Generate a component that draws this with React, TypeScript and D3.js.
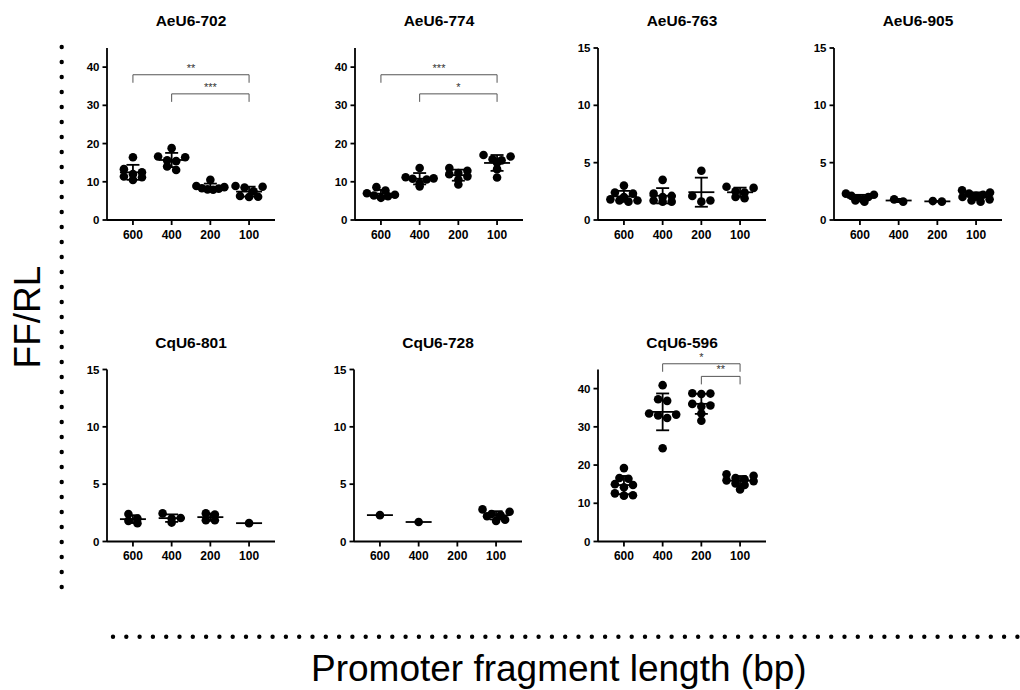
import { useEffect, useRef } from 'react'
import * as d3 from 'd3'

const CATEGORIES = ['600', '400', '200', '100']
const PANEL_NAMES = ['AeU6-702', 'AeU6-774', 'AeU6-763', 'AeU6-905', 'CqU6-801', 'CqU6-728', 'CqU6-596']
const Y_MAX = [45, 45, 15, 15, 15, 15, 45]
const TICKS_45 = [0, 10, 20, 30, 40]
const TICKS_15 = [0, 5, 10, 15]

// FF/RL replicates per fragment length (600, 400, 200, 100)
const AEU6_702 = [
  [16.4, 13.3, 12.5, 12.0, 11.4, 11.2, 10.5],
  [18.8, 16.6, 16.4, 15.6, 15.4, 14.0, 13.1],
  [10.5, 8.9, 8.6, 8.3, 8.2, 8.0, 7.9],
  [8.9, 8.7, 8.5, 7.5, 6.3, 6.1, 6.0]
]
const AEU6_774 = [
  [8.6, 7.7, 7.0, 6.6, 6.4, 6.2, 5.8],
  [13.6, 11.2, 10.9, 10.8, 10.6, 9.7, 8.8],
  [13.6, 12.9, 12.3, 12.0, 11.4, 10.6, 9.3],
  [17.0, 16.6, 15.9, 15.6, 15.0, 13.3, 11.1]
]
const AEU6_763 = [
  [3.0, 2.4, 2.3, 2.0, 1.8, 1.7, 1.7, 1.6],
  [3.5, 2.3, 2.1, 2.0, 1.7, 1.6, 1.6],
  [4.3, 2.1, 1.7, 1.6],
  [2.9, 2.8, 2.5, 2.4, 2.0, 1.9]
]
const AEU6_905 = [
  [2.3, 2.2, 2.1, 2.0, 1.9, 1.8, 1.7, 1.6],
  [1.8, 1.6],
  [1.65, 1.6],
  [2.6, 2.4, 2.3, 2.2, 2.1, 2.0, 1.8, 1.7, 1.6]
]
const CQU6_801 = [
  [2.4, 2.0, 1.8, 1.6],
  [2.45, 2.05, 2.0, 1.65],
  [2.45, 2.35, 1.85, 1.85],
  [1.6]
]
const CQU6_728 = [
  [2.3],
  [1.7],
  [],
  [2.8, 2.6, 2.4, 2.3, 2.2, 1.9, 1.8]
]
const CQU6_596 = [
  [19.2, 16.6, 16.4, 15.0, 14.8, 14.2, 12.6, 12.1, 12.0],
  [40.9, 37.2, 36.8, 33.5, 33.2, 33.0, 32.3, 24.4],
  [38.8, 38.7, 38.6, 36.0, 35.6, 35.3, 33.5, 31.6],
  [17.6, 17.2, 16.6, 16.3, 16.0, 15.8, 15.2, 14.8, 13.6]
]
const PANEL_VALUES = [AEU6_702, AEU6_774, AEU6_763, AEU6_905, CQU6_801, CQU6_728, CQU6_596]

type Sig = { a: string; b: string; y: number; label: string }
const SIG_702: Sig[] = [
  { a: '600', b: '100', y: 38, label: '**' },
  { a: '400', b: '100', y: 33, label: '***' }
]
const SIG_774: Sig[] = [
  { a: '600', b: '100', y: 38, label: '***' },
  { a: '400', b: '100', y: 33, label: '*' }
]
const SIG_596: Sig[] = [
  { a: '400', b: '100', y: 46.5, label: '*' },
  { a: '200', b: '100', y: 43.2, label: '**' }
]
const PANEL_SIGS: Sig[][] = [SIG_702, SIG_774, [], [], [], [], SIG_596]

// layout
const PANEL_X = [107, 355, 598, 834, 107, 354, 598]
const PANEL_Y = [48, 48, 48, 48, 369.5, 369.5, 369.5]
const PW = 168
const PH = 172
const R = 4.3
const FONT = '"Liberation Sans", Arial, Helvetica, sans-serif'

// GraphPad-like scatter: rows of nearby values spread horizontally
function swarm(vals: number[], y: (v: number) => number) {
  const idx = vals.map((_, i) => i).sort((a, b) => vals[b] - vals[a])
  const offsets = new Array(vals.length).fill(0)
  let row: number[] = []
  const flush = () => {
    const k = row.length
    const sp = k > 1 ? Math.min(2 * R * 1.05, 28 / (k - 1)) : 0
    // zigzag slots so a row doesn't slope
    const slots: number[] = []
    for (let lo = 0, hi = k - 1; lo <= hi; lo++, hi--) {
      slots.push(lo)
      if (hi !== lo) slots.push(hi)
    }
    row.forEach((i, j) => (offsets[i] = (slots[j] - (k - 1) / 2) * sp))
    row = []
  }
  idx.forEach((i) => {
    if (row.length && Math.abs(y(vals[i]) - y(vals[row[0]])) > R * 1.4) flush()
    row.push(i)
  })
  flush()
  return offsets
}

export default function App() {
  const ref = useRef<SVGSVGElement | null>(null)

  useEffect(() => {
    if (!ref.current) return
    const svg = d3.select(ref.current)
    svg.selectAll('*').remove()

    // dotted guide lines
    svg.append('line')
      .attr('x1', 61.7).attr('x2', 61.7).attr('y1', 47).attr('y2', 600)
      .attr('stroke', '#000').attr('stroke-width', 4.4)
      .attr('stroke-linecap', 'round').attr('stroke-dasharray', '0 15')
    svg.append('line')
      .attr('x1', 113).attr('x2', 1020).attr('y1', 636.7).attr('y2', 636.7)
      .attr('stroke', '#000').attr('stroke-width', 4.4)
      .attr('stroke-linecap', 'round').attr('stroke-dasharray', '0 13.3')

    // outer axis titles
    svg.append('text')
      .attr('transform', 'translate(40,317) rotate(-90)')
      .attr('text-anchor', 'middle')
      .attr('font-family', FONT)
      .attr('font-size', 37)
      .attr('fill', '#000')
      .text('FF/RL')
    svg.append('text')
      .attr('x', 311).attr('y', 681)
      .attr('font-family', FONT)
      .attr('font-size', 37)
      .attr('fill', '#000')
      .text('Promoter fragment length (bp)')

    PANEL_NAMES.forEach((name, p) => {
      const g = svg.append('g').attr('transform', `translate(${PANEL_X[p]},${PANEL_Y[p]})`)
      const x = d3.scalePoint<string>().domain(CATEGORIES).range([0, PW]).padding(0.67)
      const y = d3.scaleLinear().domain([0, Y_MAX[p]]).range([PH, 0])
      const ticks = Y_MAX[p] === 45 ? TICKS_45 : TICKS_15

      g.append('text')
        .attr('x', PW / 2).attr('y', -22)
        .attr('text-anchor', 'middle')
        .attr('font-family', FONT).attr('font-weight', 'bold').attr('font-size', 15.5)
        .text(name)

      // y axis
      const ya = g.append('g')
      ya.append('line').attr('x1', 0).attr('x2', 0).attr('y1', 0).attr('y2', PH)
        .attr('stroke', '#000').attr('stroke-width', 1.8)
      ticks.forEach((t) => {
        ya.append('line').attr('x1', -4.5).attr('x2', 0).attr('y1', y(t)).attr('y2', y(t))
          .attr('stroke', '#000').attr('stroke-width', 1.8)
        ya.append('text')
          .attr('x', -7.5).attr('y', y(t)).attr('dy', '0.36em')
          .attr('text-anchor', 'end')
          .attr('font-family', FONT).attr('font-weight', 'bold').attr('font-size', 11.5)
          .text(t)
      })

      // x axis
      const xa = g.append('g').attr('transform', `translate(0,${PH})`)
      xa.append('line').attr('x1', 0).attr('x2', PW).attr('y1', 0).attr('y2', 0)
        .attr('stroke', '#000').attr('stroke-width', 1.8)
      CATEGORIES.forEach((c) => {
        xa.append('line').attr('x1', x(c)!).attr('x2', x(c)!).attr('y1', 0).attr('y2', 5)
          .attr('stroke', '#000').attr('stroke-width', 1.8)
        xa.append('text')
          .attr('x', x(c)!).attr('y', 18.5)
          .attr('text-anchor', 'middle')
          .attr('font-family', FONT).attr('font-weight', 'bold').attr('font-size', 12)
          .text(c)
      })

      // points + mean ± SD
      PANEL_VALUES[p].forEach((vals, ci) => {
        if (!vals.length) return
        const cx = x(CATEGORIES[ci])!
        const offs = swarm(vals, y)
        vals.forEach((v, i) => {
          g.append('circle').attr('cx', cx + offs[i]).attr('cy', y(v)).attr('r', R).attr('fill', '#000')
        })
        const m = d3.mean(vals)!
        g.append('line').attr('x1', cx - 13).attr('x2', cx + 13).attr('y1', y(m)).attr('y2', y(m))
          .attr('stroke', '#000').attr('stroke-width', 1.8)
        if (vals.length > 1) {
          const sd = d3.deviation(vals)!
          g.append('line').attr('x1', cx).attr('x2', cx).attr('y1', y(m - sd)).attr('y2', y(m + sd))
            .attr('stroke', '#000').attr('stroke-width', 1.8)
          ;[m - sd, m + sd].forEach((e) => {
            g.append('line').attr('x1', cx - 6.5).attr('x2', cx + 6.5).attr('y1', y(e)).attr('y2', y(e))
              .attr('stroke', '#000').attr('stroke-width', 1.8)
          })
        }
      })

      // significance brackets
      PANEL_SIGS[p].forEach((s) => {
        const x1 = x(s.a)!
        const x2 = x(s.b)!
        const yy = y(s.y)
        g.append('path')
          .attr('d', `M${x1},${yy + 8}V${yy}H${x2}V${yy + 8}`)
          .attr('fill', 'none').attr('stroke', '#555').attr('stroke-width', 1)
        g.append('text')
          .attr('x', (x1 + x2) / 2).attr('y', yy - 3)
          .attr('text-anchor', 'middle')
          .attr('font-family', FONT).attr('font-size', 11).attr('fill', '#333')
          .text(s.label)
      })
    })
  }, [])

  return (
    <svg
      ref={ref}
      width={1020}
      height={690}
      style={{ position: 'absolute', left: 0, top: 0, background: '#fff' }}
    />
  )
}
